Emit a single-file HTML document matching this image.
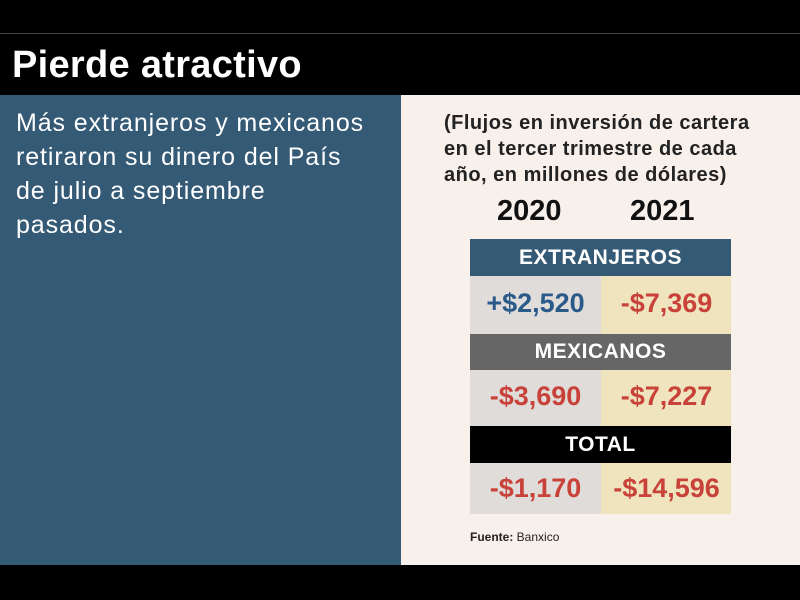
<!DOCTYPE html>
<html><head><meta charset="utf-8"><style>
*{margin:0;padding:0;box-sizing:border-box}
body{width:800px;height:600px;background:#000;position:relative;overflow:hidden;font-family:"Liberation Sans",sans-serif}
.a{position:absolute}
.hdr{color:#fff;font-weight:bold;text-align:center;font-size:21px;left:470px;width:261px;letter-spacing:0.5px}
.c{font-weight:bold;font-size:27px;text-align:center;width:131px;color:#c8423a}
</style></head><body>
<div class="a" style="left:0;top:33px;width:800px;height:1px;background:#444"></div>
<div class="a" style="left:12px;top:44px;color:#fff;font-size:38px;font-weight:bold;letter-spacing:0.3px">Pierde atractivo</div>
<div class="a" style="left:0;top:95px;width:401px;height:470px;background:#355a75"></div>
<div class="a" style="left:401px;top:95px;width:399px;height:470px;background:#f8f0ea"></div>
<div class="a" style="left:16px;top:106px;color:#fff;font-size:25px;line-height:34px;letter-spacing:0.9px">Más extranjeros y mexicanos<br>retiraron su dinero del País<br>de julio a septiembre<br>pasados.</div>
<div class="a" style="left:444px;top:110px;color:#222;font-size:20px;font-weight:bold;line-height:26px;letter-spacing:0.5px">(Flujos en inversión de cartera<br>en el tercer trimestre de cada<br>año, en millones de dólares)</div>
<div class="a" style="left:497px;top:195px;font-size:29px;font-weight:bold;color:#111">2020</div>
<div class="a" style="left:630px;top:195px;font-size:29px;font-weight:bold;color:#111">2021</div>
<div class="a hdr" style="top:239px;height:37px;line-height:37px;background:#355a75">EXTRANJEROS</div>
<div class="a" style="left:470px;top:276px;width:131px;height:58px;background:#e0dcd9"></div>
<div class="a" style="left:601px;top:276px;width:130px;height:58px;background:#efe4bd"></div>
<div class="a c" style="left:470px;top:288px;color:#2a5a8a">+$2,520</div>
<div class="a c" style="left:601px;top:288px">-$7,369</div>
<div class="a hdr" style="top:334px;height:36px;line-height:36px;background:#666">MEXICANOS</div>
<div class="a" style="left:470px;top:370px;width:131px;height:56px;background:#e0dcd9"></div>
<div class="a" style="left:601px;top:370px;width:130px;height:56px;background:#efe4bd"></div>
<div class="a c" style="left:470px;top:381px">-$3,690</div>
<div class="a c" style="left:601px;top:381px">-$7,227</div>
<div class="a hdr" style="top:426px;height:37px;line-height:37px;background:#000">TOTAL</div>
<div class="a" style="left:470px;top:463px;width:131px;height:51px;background:#e0dcd9"></div>
<div class="a" style="left:601px;top:463px;width:130px;height:51px;background:#efe4bd"></div>
<div class="a c" style="left:470px;top:473px">-$1,170</div>
<div class="a c" style="left:601px;top:473px">-$14,596</div>
<div class="a" style="left:470px;top:530px;font-size:12px;color:#222"><b>Fuente:</b> Banxico</div>
</body></html>
